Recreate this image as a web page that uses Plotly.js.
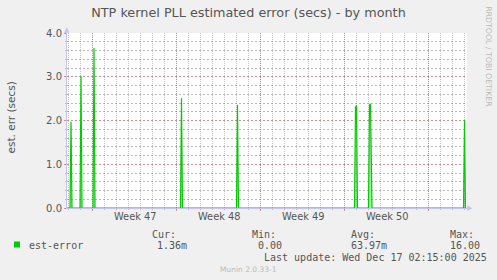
<!DOCTYPE html>
<html>
<head>
<meta charset="utf-8">
<script src="https://cdn.plot.ly/plotly-3.0.1.min.js"></script>
<style>
html,body{margin:0;padding:0;background:#f0f0f0;}
#chart{width:497px;height:280px;}
</style>
</head>
<body>
<div id="chart"></div>
<script>
// ---- data ----
const xRange = ['2025-11-13 21:00', '2025-12-17 05:00'];
const weekStarts = ['2025-11-16', '2025-11-23', '2025-11-30', '2025-12-07', '2025-12-14'];
const weekMids = ['2025-11-19 12:00', '2025-11-26 12:00', '2025-12-03 12:00', '2025-12-10 12:00'];
const weekLabels = ['Week 47', 'Week 48', 'Week 49', 'Week 50'];
const times = ['2025-11-13 21:00', '2025-11-14 03:00', '2025-11-14 05:00', '2025-11-14 07:00',
  '2025-11-14 23:00', '2025-11-15 01:00', '2025-11-15 03:00',
  '2025-11-16 01:00', '2025-11-16 03:00', '2025-11-16 05:00',
  '2025-11-23 08:00', '2025-11-23 10:00', '2025-11-23 12:00',
  '2025-11-28 00:00', '2025-11-28 02:00', '2025-11-28 04:00',
  '2025-12-07 20:00', '2025-12-07 22:00', '2025-12-08 00:00', '2025-12-08 02:00',
  '2025-12-09 00:00', '2025-12-09 02:00', '2025-12-09 04:00', '2025-12-09 07:00',
  '2025-12-16 22:00', '2025-12-17 00:00', '2025-12-17 02:00'];
const estError = [0, 0, 1.97, 0,
  0, 3.02, 0,
  0, 3.66, 0,
  0, 2.51, 0,
  0, 2.36, 0,
  0, 2.30, 2.34, 0,
  0, 2.36, 2.38, 0,
  0, 2.01, 0.00136];
const yTicks = [0, 1, 2, 3, 4];
const seriesName = 'est-error';
const statLabels = ['Cur:', 'Min:', 'Avg:', 'Max:'];
const statValues = ['1.36m', '0.00', '63.97m', '16.00'];
const titleText = 'NTP kernel PLL estimated error (secs) - by month';
const yTitle = 'est. err (secs)';
const lastUpdate = 'Last update: Wed Dec 17 02:15:00 2025';
const muninVer = 'Munin 2.0.33-1';
const rrdText = 'RRDTOOL / TOBI OETIKER';

// ---- layout helpers (pixel -> paper) ----
const L = 67, R = 467, T = 33, B = 208;
const px = x => (x - L) / (R - L);
const py = y => (B - y) / (B - T);

const green = '#00cc00';
const majorGrid = 'rgba(225,70,70,0.55)';
const minorGrid = 'rgba(110,110,110,0.4)';
const majorGridH = 'rgba(230,100,100,0.5)';
const minorGridH = 'rgba(100,100,100,0.45)';
const axisCol = '#c4c4f0';
const textCol = '#555555';
const mono = 'DejaVu Sans Mono, monospace';
const sans = 'DejaVu Sans, sans-serif';

const traces = [
  {
    x: times, y: estError, type: 'scatter', mode: 'lines', name: seriesName,
    line: {color: green, width: 1.2}, fill: 'tozeroy', fillcolor: 'rgba(0,204,0,0.35)',
    showlegend: false, hoverinfo: 'skip'
  }
];

const annotations = [];
weekLabels.forEach((s, i) => annotations.push({
  xref: 'x', yref: 'paper', x: weekMids[i], y: py(216.5), xanchor: 'center', yanchor: 'middle',
  text: s, showarrow: false, font: {family: sans, size: 9.8, color: textCol}
}));
const statX = [150, 250, 349, 448];
const valX = [155, 256, 349, 448];
statLabels.forEach((s, i) => annotations.push({
  xref: 'paper', yref: 'paper', x: px(statX[i]), y: py(234), xanchor: 'left', yanchor: 'middle',
  text: s, showarrow: false, font: {family: mono, size: 10, color: textCol}
}));
statValues.forEach((s, i) => annotations.push({
  xref: 'paper', yref: 'paper', x: px(valX[i]), y: py(245.7), xanchor: 'left', yanchor: 'middle',
  text: s, showarrow: false, font: {family: mono, size: 10, color: textCol}
}));
annotations.push({
  xref: 'paper', yref: 'paper', x: px(26.5), y: py(245.7), xanchor: 'left', yanchor: 'middle',
  text: seriesName, showarrow: false, font: {family: mono, size: 10, color: textCol}
});
annotations.push({
  xref: 'paper', yref: 'paper', x: px(262), y: py(257.3), xanchor: 'left', yanchor: 'middle',
  text: lastUpdate, showarrow: false, font: {family: mono, size: 10, color: textCol}
});
annotations.push({
  xref: 'paper', yref: 'paper', x: px(248), y: py(269.3), xanchor: 'center', yanchor: 'middle',
  text: muninVer, showarrow: false, font: {family: sans, size: 7.5, color: '#bbbbbb'}
});
annotations.push({
  xref: 'paper', yref: 'paper', x: px(488.3), y: py(56.5), xanchor: 'center', yanchor: 'middle',
  text: rrdText, textangle: 90, showarrow: false, font: {family: sans, size: 7.8, color: '#bbbbbb'}
});
annotations.push({
  xref: 'paper', yref: 'paper', x: px(10.5), y: py(118), xanchor: 'center', yanchor: 'middle',
  text: yTitle, textangle: -90, showarrow: false, font: {family: sans, size: 10.5, color: textCol}
});
annotations.push({
  xref: 'paper', yref: 'paper', x: px(67), y: py(30), xanchor: 'center', yanchor: 'middle',
  text: '▲', showarrow: false, font: {family: sans, size: 7, color: axisCol}
});
annotations.push({
  xref: 'paper', yref: 'paper', x: px(470), y: py(208), xanchor: 'center', yanchor: 'middle',
  text: '▶', showarrow: false, font: {family: sans, size: 7, color: axisCol}
});

const layout = {
  width: 497, height: 280,
  margin: {l: L, r: 497 - R, t: T, b: 280 - B},
  paper_bgcolor: '#f0f0f0', plot_bgcolor: '#ffffff',
  title: {text: titleText, x: 0.5, xref: 'container', xanchor: 'center',
          y: 1 - 13 / 280, yref: 'container', yanchor: 'middle',
          font: {family: sans, size: 12.8, color: textCol}},
  xaxis: {
    type: 'date', range: xRange, tickmode: 'array', tickvals: weekStarts,
    ticktext: weekStarts.map(() => ''),
    showgrid: true, gridcolor: majorGrid, griddash: '1px,1px', gridwidth: 1,
    ticks: 'outside', ticklen: 2, tickcolor: majorGrid,
    minor: {dtick: 86400000, tick0: '2025-11-13', showgrid: true, gridcolor: minorGrid,
            griddash: '1px,1px', ticks: 'outside', ticklen: 1, tickcolor: minorGrid},
    showline: true, linecolor: axisCol, linewidth: 1, zeroline: false
  },
  yaxis: {
    range: [0, 4], tickmode: 'array', tickvals: yTicks, ticktext: yTicks.map(v => v.toFixed(1)),
    showgrid: true, gridcolor: majorGridH, griddash: '2px,2px', gridwidth: 1,
    ticks: 'outside', ticklen: 2, tickcolor: majorGrid,
    minor: {dtick: 0.2, tick0: 0, showgrid: true, gridcolor: minorGridH, griddash: '2px,2px',
            ticks: 'outside', ticklen: 1, tickcolor: minorGrid},
    showline: true, linecolor: axisCol, linewidth: 1, zeroline: false,
    tickfont: {family: sans, size: 10, color: textCol}
  },
  shapes: [{
    type: 'rect', xref: 'paper', yref: 'paper',
    x0: px(14), x1: px(20), y0: py(247.5), y1: py(241.5),
    fillcolor: green, line: {width: 0}
  }],
  annotations: annotations,
  showlegend: false
};

Plotly.newPlot('chart', traces, layout, {staticPlot: true, displayModeBar: false});
</script>
</body>
</html>
